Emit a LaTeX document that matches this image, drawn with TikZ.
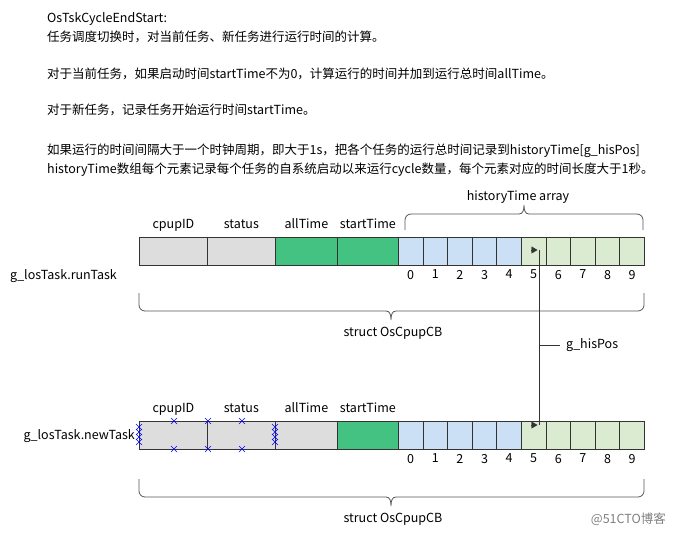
\documentclass[tikz,border=0pt]{standalone}
\usepackage{fontspec}
\setmainfont{Noto Sans CJK SC}
\usepackage{xcolor}
\usetikzlibrary{arrows.meta}

\definecolor{cellgray}{HTML}{DDDDDD}
\definecolor{cellgreen}{HTML}{44C282}
\definecolor{cellblue}{HTML}{CCE0F5}
\definecolor{celllight}{HTML}{DAEBD2}
\definecolor{edgegray}{HTML}{333333}
\definecolor{bracegray}{HTML}{555555}

\begin{document}
\begin{tikzpicture}[x=1pt, y=-1pt, every node/.style={font=\fontsize{12.5}{15}\selectfont, inner sep=0pt}]
    \useasboundingbox (0,0) rectangle (674,538);
    \tikzset{
        cell/.style={draw=edgegray, line width=0.8pt, minimum height=28, anchor=north west},
        field/.style={above=8pt, text depth=0pt},
        brace/.style={draw=bracegray, line width=0.8pt},
        xmark/.style={draw=blue, line width=0.6pt}
    }

    % Description
    \node[anchor=base west] (t1) at (47,22) {OsTskCycleEndStart:};
    \node[anchor=base west] (t2) at (47,41) {任务调度切换时，对当前任务、新任务进行运行时间的计算。};
    \node[anchor=base west] (t3) at (47,78) {对于当前任务，如果启动时间startTime不为0，计算运行的时间并加到运行总时间allTime。};
    \node[anchor=base west] (t4) at (47,114) {对于新任务，记录任务开始运行时间startTime。};
    \node[anchor=base west] (t5) at (47,154) {如果运行的时间间隔大于一个时钟周期，即大于1s，把各个任务的运行总时间记录到historyTime[g\_hisPos]};
    \node[anchor=base west] (t6) at (47,173) {historyTime数组每个元素记录每个任务的自系统启动以来运行cycle数量，每个元素对应的时间长度大于1秒。};

    % Rows
    \foreach \r/\y/\c in {run/237/cellgreen, new/421/cellgray} {
        \node[cell, fill=cellgray, minimum width=68] (\r cpu) at (139,\y) {};
        \node[cell, fill=cellgray, minimum width=68] (\r sta) at (207,\y) {};
        \node[cell, fill=\c, minimum width=62] (\r all) at (275,\y) {};
        \node[cell, fill=cellgreen, minimum width=61] (\r st) at (337,\y) {};
        \foreach \i in {0,...,9} {
            \pgfmathsetmacro{\hx}{398+\i*24.6}
            \ifnum\i<5 \def\hc{cellblue}\else\def\hc{celllight}\fi
            \node[cell, fill=\hc, minimum width=24.6] (\r h\i) at (\hx,\y) {};
            \node[below=4pt] (\r n\i) at (\r h\i.south) {\i};
        }
        \node[field] (\r lcpu) at (\r cpu.north) {cpupID};
        \node[field] (\r lsta) at (\r sta.north) {status};
        \node[field] (\r lall) at (\r all.north) {allTime};
        \node[field] (\r lst) at (\r st.north) {startTime};
    }

    % Row names
    \node[anchor=west] (runname) at (10,276) {g\_losTask.runTask};
    \node[anchor=east] (newname) at (135,436) {g\_losTask.newTask};

    % historyTime brace
    \draw[brace, rounded corners=6pt] (405,230) -- (405,214) -- (519,214);
    \draw[brace] (519,214) .. controls (523,214) and (524,210) .. (524,205)
        .. controls (524,210) and (525,214) .. (529,214);
    \draw[brace, rounded corners=6pt] (529,214) -- (643,214) -- (643,230);
    \node (hist) at (518,197) {historyTime array};

    % struct braces
    \foreach \r/\y in {run/293, new/479} {
        \draw[brace, rounded corners=6pt] (139,\y) -- (139,\y+18) -- (386,\y+18);
        \draw[brace] (386,\y+18) .. controls (390,\y+18) and (391,\y+22) .. (391,\y+27)
            .. controls (391,\y+22) and (392,\y+18) .. (396,\y+18);
        \draw[brace, rounded corners=6pt] (396,\y+18) -- (644,\y+18) -- (644,\y);
        \node (\r struct) at (393,\y+40) {struct OsCpupCB};
    }

    % g_hisPos pointer
    \coordinate (ptop) at (539,250);
    \coordinate (pbot) at (539,425);
    \draw[edgegray, line width=0.8pt] (ptop) -- (pbot);
    \draw[edgegray, -{Triangle[length=6pt, width=7pt]}] ([xshift=-8pt]ptop) -- ([xshift=-1.5pt]ptop);
    \draw[edgegray, -{Triangle[length=6pt, width=7pt]}] ([xshift=-8pt]pbot) -- ([xshift=-1.5pt]pbot);
    \node[anchor=west] (hispos) at (566,345) {g\_hisPos};
    \draw[edgegray, line width=0.8pt] (hispos.west -| ptop) -- ([xshift=-6pt]hispos.west);

    % selection marks on newTask
    \foreach \x/\y in {174/421, 208/421, 242/421, 174/449, 208/449, 242/449,
                       139/427, 139/432, 139/437, 139/442, 275/427, 275/432, 275/437, 275/442} {
        \draw[xmark] (\x-3,\y-3) -- (\x+3,\y+3) (\x-3,\y+3) -- (\x+3,\y-3);
    }

    % watermark
    \node[anchor=east, text=gray] (mark) at (666,519) {@51CTO博客};
\end{tikzpicture}
\end{document}
